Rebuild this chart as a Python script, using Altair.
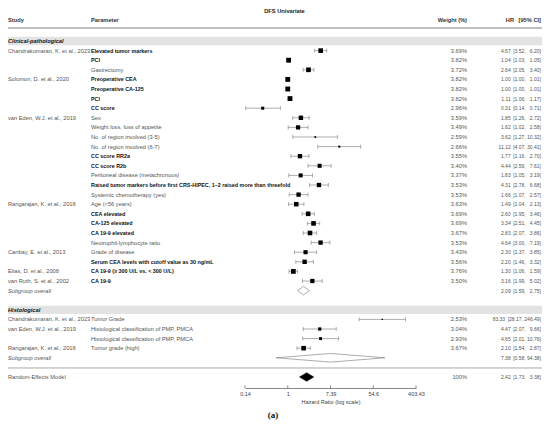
import math
import altair as alt
import pandas as pd

# ---------------- data ----------------
studies = ["Chandrakumaran, K. et al., 2023", "", "", "Solomon, D. et al., 2020", "", "", "",
           "van Eden, W.J. et al., 2019", "", "", "", "", "", "", "", "",
           "Rangarajan, K. et al., 2018", "", "", "", "",
           "Canbay, E. et al., 2013", "", "Elias, D. et al., 2008", "van Ruth, S. et al., 2002",
           "Chandrakumaran, K. et al., 2023", "van Eden, W.J. et al., 2019", "", "Rangarajan, K. et al., 2018"]
params = ["Elevated tumor markers", "PCI", "Gastrectomy", "Preoperative CEA", "Preoperative CA-125", "PCI",
          "CC score", "Sex", "Weight loss, loss of appetite", "No. of region involved (3-5)",
          "No. of region involved (6-7)", "CC score RR2a", "CC score R2b", "Peritoneal disease (metachronous)",
          "Raised tumor markers before first CRS-HIPEC, 1\u20132 raised more than threefold",
          "Systemic chemotherapy (yes)", "Age (<56 years)", "CEA elevated", "CA-125 elevated",
          "CA 19-9 elevated", "Neutrophil-lymphocyte ratio", "Grade of disease",
          "Serum CEA levels with cutoff value as 30 ng/mL", "CA 19-9 (\u2265 300 U/L vs. < 300 U/L)", "CA 19-9",
          "Tumor Grade", "Histological classification of PMP, PMCA", "Histological classification of PMP, PMCA",
          "Tumor grade (high)"]
bold = [1, 1, 0, 1, 1, 1, 1, 0, 0, 0, 0, 1, 1, 0, 1, 0, 0, 1, 1, 1, 0, 0, 1, 1, 1, 0, 0, 0, 0]
weights = [3.69, 3.82, 3.72, 3.82, 3.82, 3.82, 2.96, 3.59, 3.49, 2.59, 2.66, 3.55, 3.40, 3.37, 3.53, 3.53,
           3.63, 3.69, 3.69, 3.67, 3.53, 3.43, 3.56, 3.76, 3.50, 2.53, 3.04, 2.93, 3.67]
hr = [4.67, 1.04, 2.64, 1.00, 1.00, 1.11, 0.31, 1.85, 1.62, 3.62, 11.12, 1.77, 4.44, 1.83, 4.31, 1.66,
      1.49, 2.60, 3.34, 2.83, 4.64, 2.30, 2.20, 1.30, 3.16, 83.33, 4.47, 4.65, 2.10]
ci_lo = [3.52, 1.03, 2.05, 1.00, 1.00, 1.06, 0.14, 1.26, 1.02, 1.27, 4.07, 1.16, 2.59, 1.05, 2.78, 1.07,
         1.04, 1.95, 2.51, 2.07, 3.00, 1.37, 1.46, 1.06, 1.99, 28.17, 2.07, 2.01, 1.54]
ci_hi = [6.20, 1.05, 3.40, 1.01, 1.01, 1.17, 0.71, 2.72, 2.58, 10.32, 30.41, 2.70, 7.61, 3.19, 6.68, 2.57,
         2.13, 3.46, 4.45, 3.86, 7.19, 3.85, 3.32, 1.59, 5.02, 246.49, 9.66, 10.76, 2.87]
rows = list(range(1, 26)) + [29, 30, 31, 32]

sub_rows = [26, 33, 35]
sub_labels = ["Subgroup overall", "Subgroup overall", "Random-Effects Model"]
sub_weight = ["", "", "100%"]
sub_hr = [2.09, 7.38, 2.42]
sub_lo = [1.59, 0.58, 1.73]
sub_hi = [2.75, 94.38, 3.38]
sub_filled = [0, 0, 1]

group_rows = [0, 28]
group_labels = ["Clinical-pathological", "Histological"]

header_labels = ["Study", "Parameter", "Weight (%)", "HR", "[95% CI]"]
title_text = "DFS Univariate"
caption_text = "(a)"
tick_vals = [math.exp(-2), 1.0, math.exp(2), math.exp(4), math.exp(6)]
tick_labels = ["0.14", "1", "7.39", "54.6", "403.43"]

# ---------------- helpers ----------------
FS = 5.7
NFS = 5.0
FONT = "Liberation Sans"
W, H = 534, 380
ROW0, STEP = 33.0, 9.6
ydom = [-ROW0 / STEP, (H - ROW0) / STEP]
yscale = alt.Scale(domain=ydom, reverse=True, nice=False, zero=False)
xscale = alt.Scale(type="log", domain=[tick_vals[0], tick_vals[-1]], range=[237, 408], nice=False)
bottom_row = ydom[1]


def pad(v):
    s = f"{v:.2f}"
    return "\u2007" * max(0, 5 - len(s)) + s


def hrci_text(e, a, b):
    return f"{e:.2f}\u2002[{a:.2f}, {pad(b)}]"


lab_expr = ""
for i in range(len(tick_vals) - 1):
    thr = math.sqrt(tick_vals[i] * tick_vals[i + 1])
    lab_expr += f"datum.value < {thr} ? '{tick_labels[i]}' : "
lab_expr += f"'{tick_labels[-1]}'"

xaxis = alt.Axis(values=tick_vals, labelExpr=lab_expr, ticks=False, tickSize=0, grid=False,
                 domainColor="#555555", domainWidth=0.7, labelFontSize=5.5, labelColor="#444444",
                 labelFont=FONT, labelPadding=3, labelFlush=False, labelOverlap=False,
                 title="Hazard Ratio (log scale)", titleFontSize=5.5, titleFontWeight="normal",
                 titleColor="#444444", titleFont=FONT, titlePadding=2.5)


def X(field):
    return alt.X(field, type="quantitative", scale=xscale, axis=xaxis)


def Y(field):
    return alt.Y(field, type="quantitative", scale=yscale, axis=None)


df = pd.DataFrame({"row": rows, "study": studies, "param": params, "bold": bold, "w": weights,
                   "hr": hr, "lo": ci_lo, "hi": ci_hi})
df["wtxt"] = [f"{w:.2f}%" for w in weights]
df["numtxt"] = [hrci_text(e, a, b) for e, a, b in zip(hr, ci_lo, ci_hi)]
df["cap_lo"] = df["row"] - 0.21
df["cap_hi"] = df["row"] + 0.21

sub = pd.DataFrame({"row": sub_rows, "label": sub_labels, "wtxt": sub_weight,
                    "numtxt": [hrci_text(e, a, b) for e, a, b in zip(sub_hr, sub_lo, sub_hi)],
                    "filled": sub_filled})

dia = []
for i, (r, e, a, b, f) in enumerate(zip(sub_rows, sub_hr, sub_lo, sub_hi, sub_filled)):
    dia.append({"id": i, "x": a, "y1": r, "y2": r, "filled": f})
    dia.append({"id": i, "x": e, "y1": r - 0.45, "y2": r + 0.45, "filled": f})
    dia.append({"id": i, "x": b, "y1": r, "y2": r, "filled": f})
dia = pd.DataFrame(dia)

grp = pd.DataFrame({"row": group_rows, "label": group_labels,
                    "y1": [r - 0.43 for r in group_rows], "y2": [r + 0.43 for r in group_rows]})

hdr = pd.DataFrame({"label": header_labels, "row": [-2.2] * 5})
ticks_df = pd.DataFrame({"x": tick_vals, "y1": [bottom_row - 0.27] * 5, "y2": [bottom_row] * 5})
lines_df = pd.DataFrame({"row": [-1.35, 34.06], "sw": [1.6, 1.0]})
title_df = pd.DataFrame({"label": [title_text], "row": [-3.15]})
cap_df = pd.DataFrame({"label": [caption_text], "row": [39.45]})

base_text = dict(font=FONT, fontSize=FS, baseline="middle")

layers = []
# grey group bands
layers.append(alt.Chart(grp).mark_rect(color="#e3e3e3").encode(
    x=alt.value(0), x2=alt.value(W), y=Y("y1"), y2=alt.Y2("y2")))
# horizontal rules
layers.append(alt.Chart(lines_df).mark_rule(color="#aaaaaa").encode(
    x=alt.value(0), x2=alt.value(W), y=Y("row"), strokeWidth=alt.StrokeWidth("sw:Q", scale=None)))
# title & headers
layers.append(alt.Chart(title_df).mark_text(fontWeight="bold", color="#222222", align="center", **base_text).encode(
    x=alt.value(276.5), y=Y("row"), text="label:N"))
hx = [0, 83, 459, 506, 533]
ha = ["left", "left", "right", "right", "right"]
for lab, xx, al in zip(header_labels, hx, ha):
    layers.append(alt.Chart(hdr).transform_filter(alt.datum.label == lab).mark_text(
        fontWeight="bold", color="#333333", align=al, **base_text).encode(
        x=alt.value(xx), y=Y("row"), text="label:N"))
# group labels
layers.append(alt.Chart(grp).mark_text(fontWeight="bold", fontStyle="italic", color="#111111",
                                        align="left", **base_text).encode(
    x=alt.value(0), y=Y("row"), text="label:N"))
# study column
layers.append(alt.Chart(df).mark_text(color="#555555", align="left", **base_text).encode(
    x=alt.value(0), y=Y("row"), text="study:N"))
# parameter column
layers.append(alt.Chart(df).transform_filter(alt.datum.bold == 1).mark_text(
    color="#111111", fontWeight="bold", align="left", font=FONT, fontSize=5.4, baseline="middle").encode(
    x=alt.value(83), y=Y("row"), text="param:N"))
layers.append(alt.Chart(df).transform_filter(alt.datum.bold == 0).mark_text(
    color="#555555", align="left", **base_text).encode(
    x=alt.value(83), y=Y("row"), text="param:N"))
# numeric columns
for d in (df, sub):
    layers.append(alt.Chart(d).mark_text(color="#555555", align="right", **base_text).encode(
        x=alt.value(459), y=Y("row"), text="wtxt:N"))
    layers.append(alt.Chart(d).mark_text(color="#555555", align="right", font=FONT, fontSize=NFS,
                                         baseline="middle").encode(
        x=alt.value(533), y=Y("row"), text="numtxt:N"))
# subgroup labels
layers.append(alt.Chart(sub).transform_filter(alt.datum.filled == 0).mark_text(
    color="#555555", fontStyle="italic", align="left", **base_text).encode(
    x=alt.value(0), y=Y("row"), text="label:N"))
layers.append(alt.Chart(sub).transform_filter(alt.datum.filled == 1).mark_text(
    color="#555555", align="left", **base_text).encode(
    x=alt.value(0), y=Y("row"), text="label:N"))
# CI lines and caps
layers.append(alt.Chart(df).mark_rule(color="#777777", strokeWidth=0.6).encode(
    x=X("lo"), x2=alt.X2("hi"), y=Y("row")))
layers.append(alt.Chart(df).mark_rule(color="#777777", strokeWidth=0.6).encode(
    x=X("lo"), y=Y("cap_lo"), y2=alt.Y2("cap_hi")))
layers.append(alt.Chart(df).mark_rule(color="#777777", strokeWidth=0.6).encode(
    x=X("hi"), y=Y("cap_lo"), y2=alt.Y2("cap_hi")))
# squares
layers.append(alt.Chart(df).mark_square(filled=True, color="black", opacity=1).encode(
    x=X("hr"), y=Y("row"),
    size=alt.Size("w:Q", scale=alt.Scale(domain=[2.5, 3.85], range=[1.5, 24]), legend=None)))
# diamonds
layers.append(alt.Chart(dia).transform_filter(alt.datum.filled == 0).mark_area(
    orient="vertical", fill="white", stroke="#888888", strokeWidth=0.7).encode(
    x=X("x"), y=Y("y1"), y2=alt.Y2("y2"), detail="id:N"))
layers.append(alt.Chart(dia).transform_filter(alt.datum.filled == 1).mark_area(
    orient="vertical", fill="black", stroke="black", strokeWidth=0.5).encode(
    x=X("x"), y=Y("y1"), y2=alt.Y2("y2"), detail="id:N"))
# axis ticks pointing up
layers.append(alt.Chart(ticks_df).mark_rule(color="#555555", strokeWidth=0.7).encode(
    x=X("x"), y=Y("y1"), y2=alt.Y2("y2")))
# caption
layers.append(alt.Chart(cap_df).mark_text(font="Liberation Serif", fontSize=9, fontWeight="bold",
                                           color="#111111", align="center", baseline="bottom").encode(
    x=alt.value(265), y=Y("row"), text="label:N"))

chart = alt.layer(*layers).properties(
    width=W, height=H,
    autosize=alt.AutoSizeParams(type="none"),
    padding={"left": 0, "right": 0, "top": 0, "bottom": 32},
    background="white",
).configure_view(stroke=None)

chart.save("out.html", embed_options={"renderer": "svg", "actions": False})
